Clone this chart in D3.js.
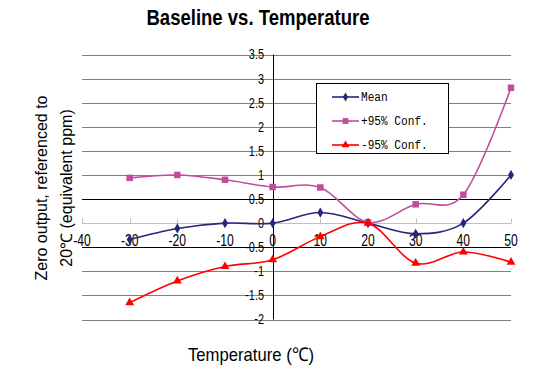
<!DOCTYPE html>
<html><head><meta charset="utf-8">
<script src="https://cdn.jsdelivr.net/npm/d3@7"></script>
<style>body{margin:0;background:#fff}svg{display:block}</style>
</head><body>
<svg id="c" width="553" height="369"></svg>
<script>
const temps = [-30, -20, -10, 0, 10, 20, 30, 40, 50];
const meanVals = [-0.34, -0.11, 0.0, 0.0, 0.22, 0.0, -0.22, 0.0, 1.0];
const plusVals = [0.94, 1.0, 0.9, 0.75, 0.74, 0.02, 0.39, 0.59, 2.81];
const minusVals = [-1.65, -1.2, -0.9, -0.76, -0.28, 0.0, -0.83, -0.6, -0.81];
const xTicks = [-40, -30, -20, -10, 0, 10, 20, 30, 40, 50];
const yTicks = [3.5, 3, 2.5, 2, 1.5, 1, 0.5, 0, -0.5, -1, -1.5, -2];
const seriesNames = ["Mean", "+95% Conf.", "-95% Conf."];

const svg = d3.select("#c");
const x = d3.scaleLinear().domain([-40, 50]).range([82, 511]);
const y = d3.scaleLinear().domain([-2, 3.5]).range([319.5, 54.5]);
const SANS = "'Liberation Sans', Arial, sans-serif";

function squish(sel, sx) {
  sel.attr("transform", function () {
    const a = +this.getAttribute("x"), b = +this.getAttribute("y");
    return `translate(${a},${b}) scale(${sx},1) translate(${-a},${-b})`;
  });
}

// gridlines
svg.append("g").selectAll("line").data(yTicks.filter(d => d !== 0)).join("line")
  .attr("x1", x(-40)).attr("x2", x(50))
  .attr("y1", d => Math.round(y(d)) + 0.5).attr("y2", d => Math.round(y(d)) + 0.5)
  .attr("stroke", d => (d === 0.5 || d === -0.5) ? "#000" : "#808080")
  .attr("stroke-width", 1);

// x axis (at y=0) light gray with upward ticks
const y0 = Math.round(y(0)) + 0.5;
svg.append("line").attr("x1", x(-40)).attr("x2", x(50)).attr("y1", y0).attr("y2", y0)
  .attr("stroke", "#c0c0c0");
svg.append("g").selectAll("line").data(xTicks).join("line")
  .attr("x1", d => Math.round(x(d)) + 0.5).attr("x2", d => Math.round(x(d)) + 0.5)
  .attr("y1", y0).attr("y2", y0 - 5).attr("stroke", "#c0c0c0");

// y axis
svg.append("line").attr("x1", Math.round(x(0)) + 0.5).attr("x2", Math.round(x(0)) + 0.5)
  .attr("y1", y(3.5)).attr("y2", y(-2)).attr("stroke", "#000");

// y labels
svg.append("g").selectAll("text").data(yTicks).join("text")
  .attr("x", 264).attr("y", d => y(d) + 5)
  .attr("text-anchor", "end").attr("font-family", SANS).attr("font-size", 14)
  .attr("fill", "#000").text(d => d)
  .call(squish, 0.78);

// x labels
svg.append("g").selectAll("text").data(xTicks).join("text")
  .attr("x", d => x(d)).attr("y", 246.5)
  .attr("text-anchor", "middle").attr("font-family", SANS).attr("font-size", 16)
  .attr("fill", "#000").text(d => d)
  .call(squish, 0.76);

// series
const series = [
  {name: seriesNames[0], vals: meanVals, color: "#26267f", sym: d3.symbolDiamond, size: 30},
  {name: seriesNames[1], vals: plusVals, color: "#c04c9e", sym: d3.symbolSquare, size: 42},
  {name: seriesNames[2], vals: minusVals, color: "#ff0000", sym: d3.symbolTriangle, size: 34}
];
const line = d3.line().x(d => x(d[0])).y(d => y(d[1])).curve(d3.curveCatmullRom.alpha(0));
series.forEach(s => {
  const pts = temps.map((t, i) => [t, s.vals[i]]);
  svg.append("path").attr("d", line(pts)).attr("fill", "none")
    .attr("stroke", s.color).attr("stroke-width", 1.6);
  svg.append("g").selectAll("path").data(pts).join("path")
    .attr("transform", d => `translate(${x(d[0])},${y(d[1])})`)
    .attr("d", d3.symbol().type(s.sym).size(s.size)).attr("fill", s.color);
});

// legend
const lg = svg.append("g");
lg.append("rect").attr("x", 316.5).attr("y", 83.5).attr("width", 132).attr("height", 70)
  .attr("fill", "#fff").attr("stroke", "#000");
const ly = [97, 121, 145];
series.forEach((s, i) => {
  lg.append("line").attr("x1", 332).attr("x2", 359).attr("y1", ly[i]).attr("y2", ly[i])
    .attr("stroke", s.color).attr("stroke-width", 1.6);
  lg.append("path").attr("transform", `translate(345.5,${ly[i]})`)
    .attr("d", d3.symbol().type(s.sym).size(s.size * 0.8)).attr("fill", s.color);
  lg.append("text").attr("x", 361).attr("y", ly[i] + 4.5)
    .attr("font-family", "'Liberation Mono', 'DejaVu Sans Mono', monospace")
    .attr("font-size", 12.5).attr("fill", "#000").text(s.name)
    .call(squish, 0.89);
});

// title
svg.append("text").attr("x", 258).attr("y", 25).attr("text-anchor", "middle")
  .attr("font-family", SANS).attr("font-weight", "bold").attr("font-size", 22)
  .attr("textLength", 223).attr("lengthAdjust", "spacingAndGlyphs")
  .text("Baseline vs. Temperature");

// x title
svg.append("text").attr("x", 251).attr("y", 361).attr("text-anchor", "middle")
  .attr("font-family", SANS).attr("font-size", 19)
  .attr("textLength", 126).attr("lengthAdjust", "spacingAndGlyphs")
  .text("Temperature (℃)");

// y title
const yt = svg.append("g").attr("transform", "translate(0,188)");
yt.append("text").attr("transform", "translate(47,0) rotate(-90)")
  .attr("text-anchor", "middle").attr("font-family", SANS).attr("font-size", 16)
  .text("Zero output, referenced to");
yt.append("text").attr("transform", "translate(72,0) rotate(-90)")
  .attr("text-anchor", "middle").attr("font-family", SANS).attr("font-size", 16)
  .text("20℃ (equivalent ppm)");
</script>
</body></html>
